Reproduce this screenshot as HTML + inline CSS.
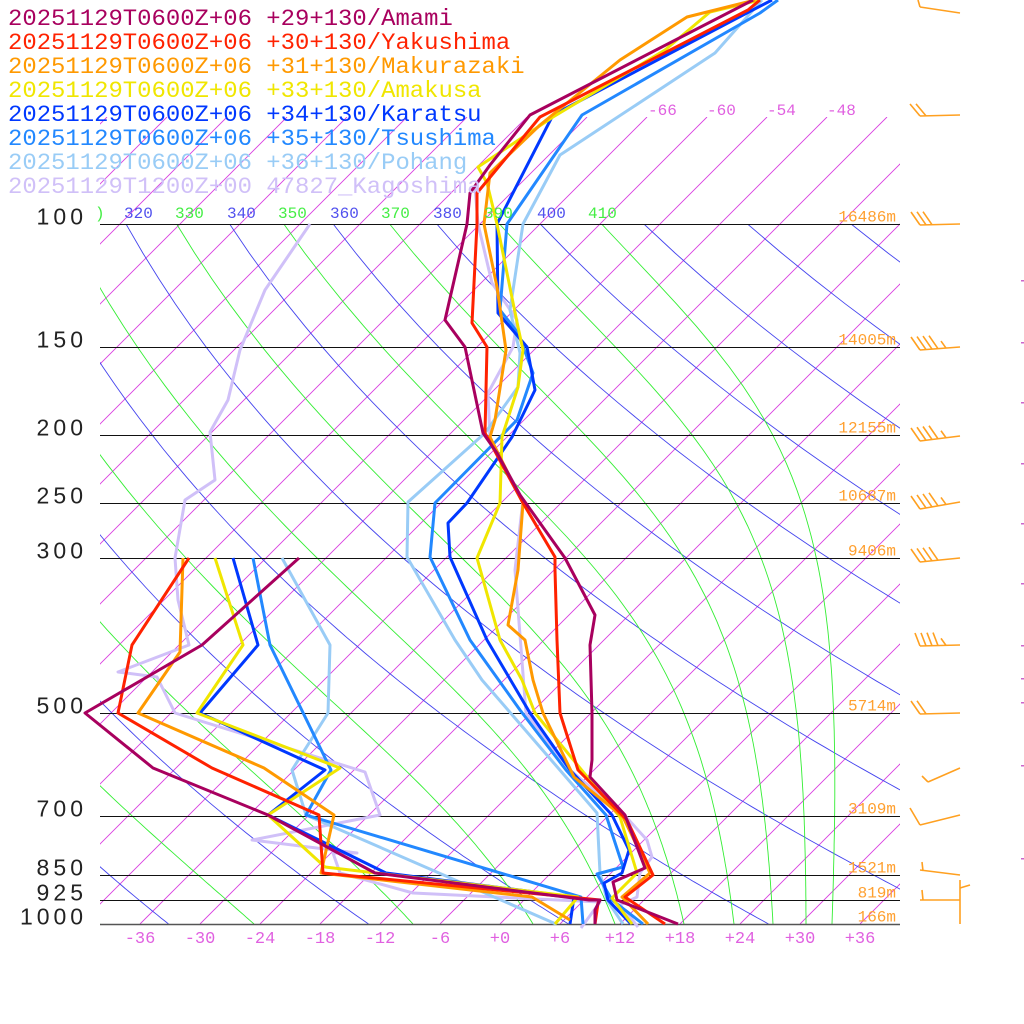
<!DOCTYPE html>
<html><head><meta charset="utf-8"><style>
html,body{margin:0;padding:0;background:#fff;width:1024px;height:1024px;overflow:hidden}
svg{display:block}
.leg{font-family:"Liberation Mono",monospace;font-size:23.5px}
.mono{font-family:"Liberation Mono",monospace}
.pl{font-family:"Liberation Sans",sans-serif;font-size:23px;fill:#222}
</style></head><body>
<svg id="s" width="1024" height="1024" xmlns="http://www.w3.org/2000/svg">
<defs>
<clipPath id="cp"><rect x="100" y="224" width="800" height="700"/></clipPath>
<clipPath id="cpi"><rect x="100" y="117" width="800" height="807"/></clipPath>
</defs>
<g id="grid"></g>
<g id="hl"></g>
<g id="data" fill="none" stroke-width="3" stroke-linejoin="round"></g>
<g id="txt"></g>
<g id="barbs" stroke="#ffa020" stroke-width="1.6" fill="none"></g>
</svg>
<script>
var NS="http://www.w3.org/2000/svg";
function el(parent,tag,attrs,text){var e=document.createElementNS(NS,tag);for(var k in attrs)e.setAttribute(k,attrs[k]);if(text!==undefined)e.textContent=text;document.getElementById(parent).appendChild(e);return e;}
function Y(p){return 924-304*Math.log(1000/p);}
function X(T,y){return 500+10*T+(924-y);}
var g=document.getElementById('grid');
var iso=document.createElementNS(NS,'g');iso.setAttribute('clip-path','url(#cpi)');g.appendChild(iso);
for(var T=-150;T<=50;T+=6){var y1=924,y2=117;var e=document.createElementNS(NS,'line');
e.setAttribute('x1',X(T,y1));e.setAttribute('y1',y1);e.setAttribute('x2',X(T,y2));e.setAttribute('y2',y2);
e.setAttribute('stroke','#d83ee0');e.setAttribute('stroke-width','0.9');iso.appendChild(e);}
var cg=document.createElementNS(NS,'g');cg.setAttribute('clip-path','url(#cp)');g.appendChild(cg);
for(var th=200;th<=520;th+=20){var pts=[];for(var p=1000;p>=100;p-=10){var T=th*Math.pow(p/1000,0.2857)-273.15;var y=Y(p);pts.push(X(T,y).toFixed(1)+','+y.toFixed(1));}
var e=document.createElementNS(NS,'polyline');e.setAttribute('points',pts.join(' '));e.setAttribute('fill','none');e.setAttribute('stroke','#4444ee');e.setAttribute('stroke-width','0.9');cg.appendChild(e);}
function es(Tc){return 6.112*Math.exp(17.67*Tc/(Tc+243.5));}
var starts=[-40,-24.6,-8.7,3.3,11.5,18.4,23.4,27.3,30.6,33.2];
starts.forEach(function(T0){var T=T0+273.15,pts=[];var Rd=287,cp=1004,L=2.5e6,eps=0.622;
for(var p=1000;p>=100;p-=1){if(p%10==0){var y=Y(p);pts.push(X(T-273.15,y).toFixed(1)+','+y.toFixed(1));}
var e=es(T-273.15);var rs=eps*e/(p-e);var dTdp=(Rd*T+L*rs)/(p*(cp+L*L*rs*eps/(Rd*T*T)));T-=dTdp*1;}
var e2=document.createElementNS(NS,'polyline');e2.setAttribute('points',pts.join(' '));e2.setAttribute('fill','none');e2.setAttribute('stroke','#33ee33');e2.setAttribute('stroke-width','0.9');cg.appendChild(e2);});
var lev=[[100,"100","16486m"],[150,"150","14005m"],[200,"200","12155m"],[250,"250","10687m"],[300,"300","9406m"],[500,"500","5714m"],[700,"700","3109m"],[850,"850","1521m"],[925,"925","819m"],[1000,"1000","166m"]];
lev.forEach(function(l){var y=Math.round(Y(l[0]))+0.5;el('hl','line',{x1:100,y1:y,x2:900,y2:y,stroke:l[0]==1000?'#555':'#111','stroke-width':l[0]==1000?1.6:1.1});
var n=l[1].length;el('txt','text',{x:86-16.5*n,y:y+0,'class':'pl','textLength':16.5*n-3,'lengthAdjust':'spacing'},l[1]);
el('txt','text',{x:896,y:y-3,'text-anchor':'end','class':'mono','font-size':'16','fill':'#ffa030'},l[2]);});
for(var t=-36;t<=36;t+=6){el('txt','text',{x:500+10*t,y:943,'text-anchor':'middle','class':'mono','font-size':'17','fill':'#e060e0'},(t>=0?'+':'')+t);}
[[-66,648],[-60,707],[-54,767],[-48,827]].forEach(function(a){el('txt','text',{x:a[1],y:115,'class':'mono','font-size':'16','fill':'#e060e0'},a[0]);});
[[320,124],[340,227],[360,330],[380,433],[400,537]].forEach(function(a){el('txt','text',{x:a[1],y:218,'class':'mono','font-size':'16','fill':'#5050ee'},a[0]);});
[[330,175],[350,278],[370,381],[390,484],[410,588]].forEach(function(a){el('txt','text',{x:a[1],y:218,'class':'mono','font-size':'16','fill':'#44ee44'},a[0]);});
el('txt','text',{x:95,y:218,'class':'mono','font-size':'16','fill':'#44ee44'},')');
var S={
amami:['#a8005e',
 [[753,0],[530,115],[490,165],[470,193],[467,224],[445,320],[465,347],[483,433],[497,453],[520,495],[565,558],[595,615],[590,645],[592,713],[592,760],[590,777],[625,815],[645,868],[613,882],[617,900],[678,924]],
 [[299,558],[202,645],[85,713],[153,768],[268,815],[375,873],[589,900],[600,900],[595,910],[595,924]]],
yaku:['#ff2200',
 [[760,0],[748,10],[540,117],[477,193],[477,224],[472,323],[487,347],[485,433],[523,503],[555,557],[555,570],[557,640],[560,713],[578,770],[627,820],[653,875],[625,897],[665,924]],
 [[189,558],[132,645],[118,713],[212,768],[319,815],[323,873],[600,900],[598,903],[595,924]]],
maku:['#ff9900',
 [[755,0],[687,17],[620,60],[540,125],[490,173],[484,224],[497,287],[506,350],[495,420],[490,437],[523,503],[518,570],[508,625],[525,640],[533,680],[543,713],[574,777],[623,817],[650,873],[622,897],[648,924]],
 [[183,558],[180,652],[138,713],[264,768],[334,815],[321,873],[532,897],[570,920]]],
amak:['#f0e600',
 [[760,0],[710,12],[665,50],[553,117],[478,167],[487,183],[497,224],[518,327],[523,350],[518,387],[502,437],[500,503],[477,558],[500,640],[522,680],[535,713],[620,817],[637,873],[612,898],[632,924]],
 [[215,558],[243,645],[197,713],[340,768],[268,815],[325,867],[578,897],[555,924]]],
kara:['#0038ff',
 [[772,0],[743,15],[553,115],[497,224],[498,313],[527,347],[535,390],[512,437],[467,503],[448,523],[450,557],[487,640],[530,713],[570,770],[612,815],[629,850],[622,873],[604,883],[608,900],[631,924]],
 [[233,558],[258,645],[200,713],[325,770],[268,815],[386,873],[574,897],[570,924]]],
tsu:['#2288ff',
 [[778,0],[760,13],[582,115],[507,224],[500,310],[518,333],[533,373],[517,420],[435,503],[430,557],[470,640],[520,710],[566,770],[606,815],[623,867],[597,874],[612,900],[643,924]],
 [[253,558],[270,645],[331,770],[306,815],[581,897],[583,924]]],
poh:['#99ccf6',
 [[762,0],[715,53],[560,155],[523,224],[510,310],[520,353],[518,387],[485,433],[408,502],[407,557],[455,640],[482,680],[597,813],[600,873],[607,900],[623,924]],
 [[282,558],[330,645],[328,713],[292,770],[306,815],[556,924]]],
kago:['#d0c0f8',
 [[475,187],[478,224],[492,283],[517,320],[513,347],[488,393],[490,440],[523,500],[515,570],[526,713],[570,770],[627,818],[647,840],[652,857],[640,873],[637,897],[620,905],[638,927]],
 [[310,224],[265,290],[240,350],[228,400],[210,432],[215,480],[185,500],[175,558],[178,600],[189,645],[118,672],[157,677],[175,713],[365,772],[380,815],[252,840],[357,853],[333,853],[340,873],[413,893],[600,902],[581,928]]]
};
var order=['kago','poh','tsu','kara','amak','maku','yaku','amami'];
order.forEach(function(k){var s=S[k];[s[1],s[2]].forEach(function(pts){el('data','polyline',{points:pts.map(function(q){return q.join(',');}).join(' '),stroke:s[0]});});});
var leg=[['#a8005e','+29+130/Amami'],['#ff2200','+30+130/Yakushima'],['#ff9900','+31+130/Makurazaki'],['#f0e600','+33+130/Amakusa'],['#0038ff','+34+130/Karatsu'],['#2288ff','+35+130/Tsushima'],['#99ccf6','+36+130/Pohang']];
leg.forEach(function(l,i){var t='20251129T0600Z+06 '+l[1];el('txt','text',{x:8,y:25+24*i,'class':'leg',fill:l[0],'textLength':14.35*t.length,'lengthAdjust':'spacingAndGlyphs'},t);});
var kt='20251129T1200Z+00 47827_Kagoshima';
el('txt','text',{x:8,y:25+24*7,'class':'leg',fill:'#d0c0f8','textLength':14.35*kt.length,'lengthAdjust':'spacingAndGlyphs'},kt);
function line(a,b,c,d){el('barbs','line',{x1:a,y1:b,x2:c,y2:d});}
function barb(y,yl,n,half,dx,dy){var x0=920;line(960,y,x0,yl);for(var i=0;i<n;i++){var bx=x0+6*i,by=yl+(y-yl)*(6*i/40);line(bx,by,bx+(dx||-9),by+(dy||-13));}
if(half){var bx=x0+6*n+2,by=yl+(y-yl)*((6*n+2)/40);line(bx,by,bx-5,by-7);}}
line(960,13,920,7);line(920,7,918,0);
barb(115,116,2,false,-10,-12);
barb(224,225,3,false);
barb(347,350,4,true);
barb(436,441,4,true);
barb(502,509,4,true);
barb(558,562,4,false);
barb(645,646,4,true,-5,-13);
barb(713,714,2,false);
line(960,768,928,782);line(928,782,922,776);
line(960,815,920,825);line(920,825,910,808);
line(960,875,920,870);line(923,871,922,862);
line(960,900,920,900);line(923,900,922,890);line(960,880,960,924);line(960,888,970,885);
[280,342,402,463,523,583,645,678,702,765,858].forEach(function(y){el('txt','rect',{x:1021,y:y,width:3,height:1.5,fill:'#cc66cc'});});
</script>
</body></html>
